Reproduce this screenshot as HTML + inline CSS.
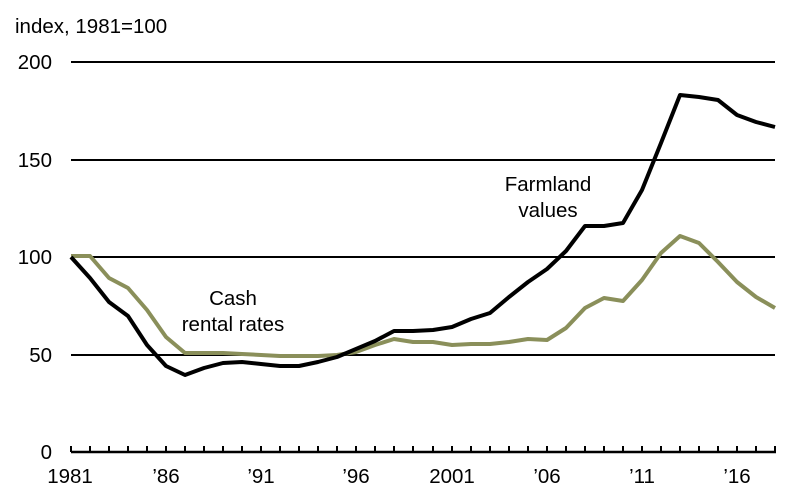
<!DOCTYPE html>
<html><head><style>
html,body{margin:0;padding:0;background:#fff;}
svg{display:block;font-family:"Liberation Sans",Arial,sans-serif;}
</style></head><body>
<svg width="800" height="501" viewBox="0 0 800 501" xmlns="http://www.w3.org/2000/svg">
<g stroke="#000" stroke-width="2">
<line x1="71" y1="62" x2="775" y2="62"/>
<line x1="71" y1="160" x2="775" y2="160"/>
<line x1="71" y1="257" x2="775" y2="257"/>
<line x1="71" y1="355" x2="775" y2="355"/>
<line x1="71" y1="452" x2="776" y2="452" stroke-width="2.5"/>
<path fill="none" d="M71,446V452M90,446V452M109,446V452M128,446V452M147,446V452M166,446V452M185,446V452M204,446V452M223,446V452M242,446V452M261,446V452M280,446V452M299,446V452M318,446V452M337,446V452M356,446V452M375,446V452M394,446V452M413,446V452M433,446V452M452,446V452M471,446V452M490,446V452M509,446V452M528,446V452M547,446V452M566,446V452M585,446V452M604,446V452M623,446V452M642,446V452M661,446V452M680,446V452M699,446V452M718,446V452M737,446V452M756,446V452M775,446V452"/>
</g>
<g font-size="20.5" fill="#000" text-anchor="end">
<text x="52" y="69">200</text>
<text x="52" y="167">150</text>
<text x="52" y="264">100</text>
<text x="52" y="362">50</text>
<text x="52" y="459">0</text>
</g>
<text x="15" y="33" font-size="20.5">index, 1981=100</text>
<g font-size="20.5" text-anchor="middle">
<text x="70" y="483">1981</text>
<text x="166" y="483">’86</text>
<text x="261" y="483">’91</text>
<text x="356" y="483">’96</text>
<text x="452" y="483">2001</text>
<text x="547" y="483">’06</text>
<text x="642" y="483">’11</text>
<text x="737" y="483">’16</text>
<text x="548" y="191">Farmland</text>
<text x="548" y="217">values</text>
<text x="233" y="305">Cash</text>
<text x="233" y="331">rental rates</text>
</g>
<polyline fill="none" stroke="#8a8f5a" stroke-width="4" stroke-linejoin="round" points="71,256 90,256 109,278 128,288 147,310 166,337 185,353 204,353 223,353 242,354 261,355 280,356 299,356 318,356 337,355 356,352 375,345 394,339 413,342 433,342 452,345 471,344 490,344 509,342 528,339 547,340 566,328 585,308 604,298 623,301 642,280 661,253 680,236 699,243 718,262 737,282 756,297 775,308"/>
<polyline fill="none" stroke="#000" stroke-width="4" stroke-linejoin="round" points="71,257 90,278 109,302 128,316 147,345 166,366 185,375 204,368 223,363 242,362 261,364 280,366 299,366 318,362 337,357 356,349 375,341 394,331 413,331 433,330 452,327 471,319 490,313 509,297 528,282 547,269 566,251 585,226 604,226 623,223 642,190 661,143 680,95 699,97 718,100 737,115 756,122 775,127"/>
</svg>
</body></html>
